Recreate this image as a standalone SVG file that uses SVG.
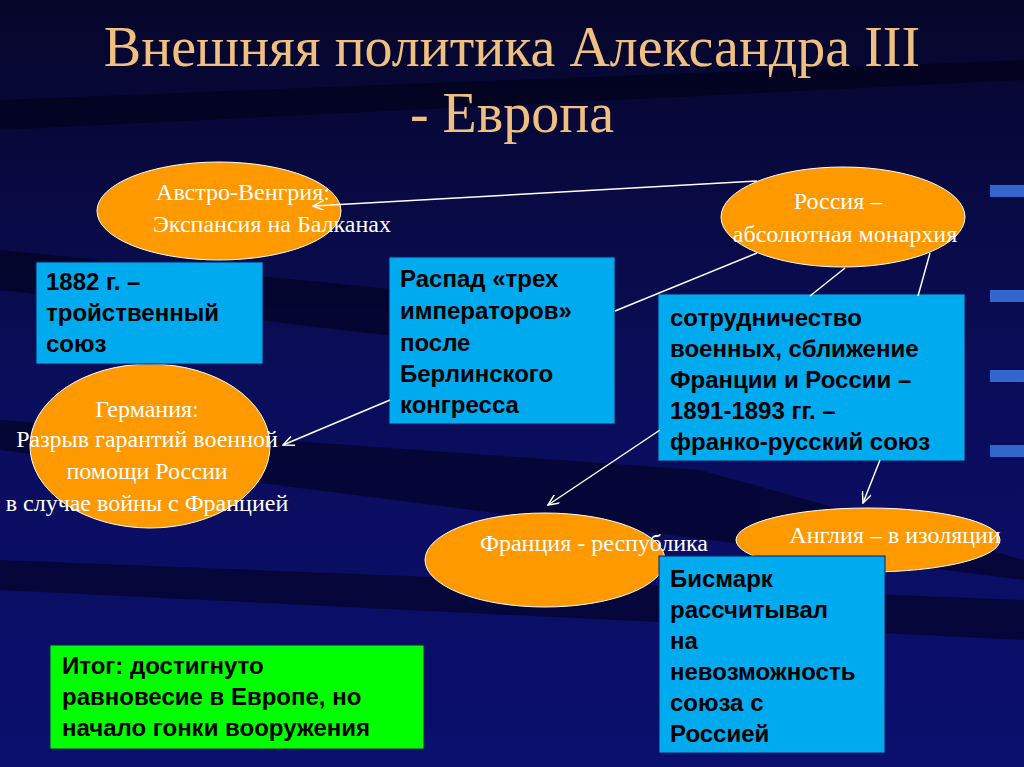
<svg xmlns="http://www.w3.org/2000/svg" width="1024" height="767" viewBox="0 0 1024 767">
<defs>
<linearGradient id="bg" x1="0" y1="0" x2="0" y2="1"><stop offset="0" stop-color="#06062a"/><stop offset="0.5" stop-color="#0a0d5a"/><stop offset="1" stop-color="#0b0f6e"/></linearGradient>
<marker id="ar" markerWidth="12" markerHeight="10" refX="11" refY="5" orient="auto" markerUnits="userSpaceOnUse"><path d="M0,0 L11,5 L0,10" fill="none" stroke="#fff" stroke-width="1.5"/></marker>
<style>
.ell{fill:#ff9900;stroke:#fff;stroke-width:1}
.et{font-family:"Liberation Serif",serif;font-size:24px;fill:#fff;text-anchor:middle}
.box{fill:#00aaee;stroke:#0a1a60;stroke-width:1}
.bt{font-family:"Liberation Sans",Arial,sans-serif;font-size:24px;font-weight:bold;fill:#000}
.c line{stroke:#fff;stroke-width:1.5}
</style>
</defs>
<rect width="1024" height="767" fill="url(#bg)"/>
<g opacity="0.5" fill="#000010">
<path d="M0,100 L1024,60 L1024,80 L0,130Z"/>
<path d="M0,250 L400,290 L600,360 L0,290Z"/>
<path d="M0,420 L700,470 L1024,560 L1024,580 L0,450Z"/>
<path d="M0,560 L1024,600 L1024,640 L0,590Z"/>
</g>
<g fill="#3366cc"><rect x="990" y="185" width="34" height="12"/><rect x="990" y="290" width="34" height="12"/><rect x="990" y="370" width="34" height="12"/><rect x="990" y="445" width="34" height="12"/></g>
<g id="title" font-family="Liberation Serif,serif" font-size="56" fill="#f0c080" text-anchor="middle">
<text x="512" y="66">Внешняя политика Александра III</text>
<text x="512" y="132">- Европа</text>
</g>
<g id="austria"><ellipse class="ell" cx="219" cy="211" rx="122" ry="49"/><text class="et" x="243" y="200">Австро-Венгрия:</text><text class="et" x="272" y="232">Экспансия на Балканах</text></g>
<g id="russia"><ellipse class="ell" cx="843" cy="217" rx="122" ry="50"/><text class="et" x="838" y="209">Россия –</text><text class="et" x="845" y="242">абсолютная монархия</text></g>
<g id="germany"><ellipse class="ell" cx="150" cy="446" rx="120" ry="82"/><text class="et" x="147" y="417">Германия:</text><text class="et" x="147" y="447">Разрыв гарантий военной</text><text class="et" x="147" y="479">помощи России</text><text class="et" x="147" y="511">в случае войны с Францией</text></g>
<g id="france"><ellipse class="ell" cx="545" cy="560" rx="120" ry="47"/><text class="et" x="594" y="551">Франция - республика</text></g>
<g id="england"><ellipse class="ell" cx="868" cy="540" rx="132" ry="32"/><text class="et" x="895" y="543">Англия – в изоляции</text></g>
<g id="b1882"><rect class="box" x="36" y="262" width="227" height="102"/><text class="bt" x="46" y="290">1882  г. –</text><text class="bt" x="46" y="321">тройственный</text><text class="bt" x="46" y="352">союз</text></g>
<g id="braspad"><rect class="box" x="389" y="257" width="226" height="167"/><text class="bt" x="400" y="287">Распад «трех</text><text class="bt" x="400" y="319">императоров»</text><text class="bt" x="400" y="351">после</text><text class="bt" x="400" y="382">Берлинского</text><text class="bt" x="400" y="413">конгресса</text></g>
<g id="bsotr"><rect class="box" x="658" y="294" width="307" height="167"/><text class="bt" x="670" y="326">сотрудничество</text><text class="bt" x="670" y="357">военных, сближение</text><text class="bt" x="670" y="388">Франции и России –</text><text class="bt" x="670" y="419">1891-1893 гг. –</text><text class="bt" x="670" y="450">франко-русский союз</text></g>
<g id="bbism"><rect class="box" x="659" y="556" width="226" height="197"/><text class="bt" x="670" y="587">Бисмарк</text><text class="bt" x="670" y="618">рассчитывал</text><text class="bt" x="670" y="649">на</text><text class="bt" x="670" y="680">невозможность</text><text class="bt" x="670" y="711">союза с</text><text class="bt" x="670" y="742">Россией</text></g>
<g id="bitog"><rect x="50" y="645" width="374" height="104" fill="#00ff00" stroke="#0a1a60"/><text class="bt" x="62" y="674">Итог: достигнуто</text><text class="bt" x="62" y="705">равновесие в Европе, но</text><text class="bt" x="62" y="736">начало гонки вооружения</text></g>
<g class="c">
<line x1="757" y1="181" x2="313" y2="206" marker-end="url(#ar)"/>
<line x1="757" y1="253" x2="615" y2="311"/>
<line x1="390" y1="400" x2="283" y2="445" marker-end="url(#ar)"/>
<line x1="845" y1="268" x2="810" y2="296"/>
<line x1="930" y1="253" x2="918" y2="296"/>
<line x1="660" y1="430" x2="548" y2="505" marker-end="url(#ar)"/>
<line x1="880" y1="460" x2="863" y2="503" marker-end="url(#ar)"/>
</g>
</svg>
